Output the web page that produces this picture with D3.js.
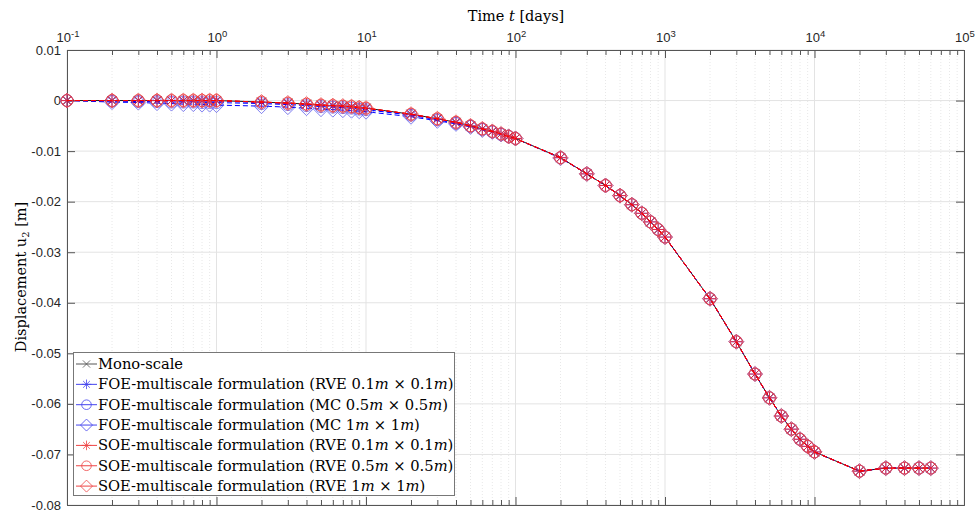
<!DOCTYPE html>
<html><head><meta charset="utf-8">
<script src="https://cdn.jsdelivr.net/npm/d3@7"></script>
<style>
html,body{margin:0;padding:0;background:#fff;}
svg{display:block;}
</style></head>
<body>
<svg id="chart" width="979" height="513"></svg>
<script>
const times = [0.1,0.2,0.3,0.4,0.5,0.6,0.7,0.8,0.9,1,
  2,3,4,5,6,7,8,9,10,
  20,30,40,50,60,70,80,90,100,
  200,300,400,500,600,700,800,900,1000,
  2000,3000,4000,5000,6000,7000,8000,9000,10000,
  20000,30000,40000,50000,60000];

const monoScale = [0,0,0,0,0,0,0,0,0,0,
  -0.0003,-0.0005,-0.0007,-0.0009,-0.0010,-0.0011,-0.0012,-0.0014,-0.0015,
  -0.0027,-0.0036,-0.0043,-0.0050,-0.0056,-0.0061,-0.0066,-0.0071,-0.0075,
  -0.0113,-0.0145,-0.0168,-0.0188,-0.0206,-0.0223,-0.0240,-0.0255,-0.0270,
  -0.0392,-0.0477,-0.0541,-0.0588,-0.0624,-0.0650,-0.0670,-0.0684,-0.0695,
  -0.0733,-0.0727,-0.0727,-0.0727,-0.0727];

const foeRve01 = [0,0,0,0,0,-0.0001,-0.0001,-0.0001,-0.0001,-0.0001,
  -0.0004,-0.0006,-0.0008,-0.0010,-0.0011,-0.0012,-0.0013,-0.0015,-0.0016,
  -0.0028,-0.0037,-0.0044,-0.0050,-0.0056,-0.0061,-0.0066,-0.0071,-0.0075,
  -0.0113,-0.0145,-0.0168,-0.0188,-0.0206,-0.0223,-0.0240,-0.0255,-0.0270,
  -0.0392,-0.0477,-0.0541,-0.0588,-0.0624,-0.0650,-0.0670,-0.0684,-0.0695,
  -0.0733,-0.0727,-0.0727,-0.0727,-0.0727];

const foeMc05 = [0,-0.0001,-0.0002,-0.0002,-0.0003,-0.0003,-0.0003,-0.0004,-0.0004,-0.0004,
  -0.0006,-0.0008,-0.0010,-0.0012,-0.0013,-0.0014,-0.0015,-0.0017,-0.0018,
  -0.0029,-0.0038,-0.0045,-0.0051,-0.0057,-0.0062,-0.0067,-0.0071,-0.0075,
  -0.0113,-0.0145,-0.0168,-0.0188,-0.0206,-0.0223,-0.0240,-0.0255,-0.0270,
  -0.0392,-0.0477,-0.0541,-0.0588,-0.0624,-0.0650,-0.0670,-0.0684,-0.0695,
  -0.0733,-0.0727,-0.0727,-0.0727,-0.0727];

const foeMc1 = [0,-0.0003,-0.0004,-0.0005,-0.0006,-0.0007,-0.0007,-0.0008,-0.0008,-0.0009,
  -0.0011,-0.0013,-0.0015,-0.0017,-0.0018,-0.0019,-0.0020,-0.0021,-0.0022,
  -0.0032,-0.0040,-0.0046,-0.0052,-0.0058,-0.0062,-0.0067,-0.0071,-0.0075,
  -0.0114,-0.0145,-0.0168,-0.0188,-0.0206,-0.0223,-0.0240,-0.0255,-0.0270,
  -0.0392,-0.0477,-0.0541,-0.0588,-0.0624,-0.0650,-0.0670,-0.0684,-0.0695,
  -0.0733,-0.0727,-0.0727,-0.0727,-0.0727];

const soeRve01 = [0,0,0,0,0,0,0,0,0,0,
  -0.0003,-0.0005,-0.0007,-0.0009,-0.0010,-0.0011,-0.0012,-0.0014,-0.0015,
  -0.0027,-0.0036,-0.0043,-0.0050,-0.0056,-0.0061,-0.0066,-0.0071,-0.0075,
  -0.0113,-0.0145,-0.0168,-0.0188,-0.0206,-0.0223,-0.0240,-0.0255,-0.0270,
  -0.0392,-0.0477,-0.0541,-0.0588,-0.0624,-0.0650,-0.0670,-0.0684,-0.0695,
  -0.0733,-0.0727,-0.0727,-0.0727,-0.0727];

const soeRve05 = [0,0,0,0,0,0,0,0,0,0,
  -0.0003,-0.0005,-0.0007,-0.0009,-0.0010,-0.0011,-0.0012,-0.0014,-0.0015,
  -0.0027,-0.0036,-0.0043,-0.0050,-0.0056,-0.0061,-0.0066,-0.0071,-0.0075,
  -0.0113,-0.0145,-0.0168,-0.0188,-0.0206,-0.0223,-0.0240,-0.0255,-0.0270,
  -0.0392,-0.0477,-0.0541,-0.0588,-0.0624,-0.0650,-0.0670,-0.0684,-0.0695,
  -0.0733,-0.0727,-0.0727,-0.0727,-0.0727];

const soeRve1 = [0,0,0,0,0,0,0,0,0,0,
  -0.0003,-0.0005,-0.0007,-0.0009,-0.0010,-0.0011,-0.0012,-0.0014,-0.0015,
  -0.0027,-0.0036,-0.0043,-0.0050,-0.0056,-0.0061,-0.0066,-0.0071,-0.0075,
  -0.0113,-0.0145,-0.0168,-0.0188,-0.0206,-0.0223,-0.0240,-0.0255,-0.0270,
  -0.0392,-0.0477,-0.0541,-0.0588,-0.0624,-0.0650,-0.0670,-0.0684,-0.0695,
  -0.0733,-0.0727,-0.0727,-0.0727,-0.0727];

const seriesLabels = [
  "Mono-scale",
  "FOE-multiscale formulation (RVE 0.1m × 0.1m)",
  "FOE-multiscale formulation (MC 0.5m × 0.5m)",
  "FOE-multiscale formulation (MC 1m × 1m)",
  "SOE-multiscale formulation (RVE 0.1m × 0.1m)",
  "SOE-multiscale formulation (RVE 0.5m × 0.5m)",
  "SOE-multiscale formulation (RVE 1m × 1m)"
];
const seriesValues = [monoScale, foeRve01, foeMc05, foeMc1, soeRve01, soeRve05, soeRve1];
const seriesColors = ["#000000","#0000ff","#0000ff","#0000ff","#ff0000","#ff0000","#ff0000"];
const markerColors = ["#333333","#3030ee","#6060ee","#6060ee","#ff2020","#ee4040","#ee4040"];
const seriesMarkers = ["x","star","circle","diamond","star","circle","diamond"];
const seriesDash = [null,"5,3","5,3","5,3","5,3","5,3","5,3"];
const legendLineColors = ["#555","#4444ee","#4444ee","#4444ee","#ee4444","#ee4444","#ee4444"];

const yTicks = [0.01,0,-0.01,-0.02,-0.03,-0.04,-0.05,-0.06,-0.07,-0.08];
const yTickLabels = ["0.01","0","-0.01","-0.02","-0.03","-0.04","-0.05","-0.06","-0.07","-0.08"];
const xMajor = [0.1,1,10,100,1000,10000,100000];
const xMajorExp = ["-1","0","1","2","3","4","5"];

const W = 979, H = 513;
const L = 67, R = 964, T = 50, B = 505;
const svg = d3.select("#chart");
const x = d3.scaleLog().domain([0.1, 1e5]).range([L, R]);
const y = d3.scaleLinear().domain([-0.08, 0.01]).range([B, T]);

const gridCol = "#e3e3e3";
// minor grid (dotted)
const allTicks = x.ticks();
const minor = allTicks.filter(t => !xMajor.some(m => Math.abs(m - t) / m < 1e-9));
svg.append("g").selectAll("line").data(minor).join("line")
  .attr("x1", d => x(d)).attr("x2", d => x(d)).attr("y1", T).attr("y2", B)
  .attr("stroke", "#e8e8e8").attr("stroke-width", 1).attr("stroke-dasharray", "1,2");
// major grid
svg.append("g").selectAll("line").data(xMajor).join("line")
  .attr("x1", d => x(d)).attr("x2", d => x(d)).attr("y1", T).attr("y2", B)
  .attr("stroke", gridCol).attr("stroke-width", 1);
svg.append("g").selectAll("line").data(yTicks).join("line")
  .attr("x1", L).attr("x2", R).attr("y1", d => y(d)).attr("y2", d => y(d))
  .attr("stroke", gridCol).attr("stroke-width", 1);

// axes (ticks inward)
const axCol = "#555";
function styleAxis(g){ g.select(".domain").attr("stroke", axCol); g.selectAll(".tick line").attr("stroke", axCol); }
svg.append("g").attr("transform", `translate(0,${T})`)
  .call(d3.axisTop(x).tickValues(xMajor).tickSize(-8).tickFormat(""))
  .call(styleAxis);
svg.append("g").attr("transform", `translate(0,${T})`)
  .call(d3.axisTop(x).tickValues(minor).tickSize(-5).tickFormat("")).call(g => g.select(".domain").remove())
  .call(styleAxis);
svg.append("g").attr("transform", `translate(0,${B})`)
  .call(d3.axisBottom(x).tickValues(xMajor).tickSize(-8).tickFormat(""))
  .call(styleAxis);
svg.append("g").attr("transform", `translate(0,${B})`)
  .call(d3.axisBottom(x).tickValues(minor).tickSize(-5).tickFormat("")).call(g => g.select(".domain").remove())
  .call(styleAxis);
svg.append("g").attr("transform", `translate(${L},0)`)
  .call(d3.axisLeft(y).tickValues(yTicks).tickSize(-8).tickFormat(""))
  .call(styleAxis);
svg.append("g").attr("transform", `translate(${R},0)`)
  .call(d3.axisRight(y).tickValues(yTicks).tickSize(-8).tickFormat(""))
  .call(styleAxis);

// tick labels
const lblFont = "'Liberation Sans', Arial, sans-serif";
xMajor.forEach((v, i) => {
  const t = svg.append("text").attr("x", x(v) + 1).attr("y", 42)
    .attr("text-anchor", "middle").attr("font-family", lblFont)
    .attr("font-size", 13).attr("fill", "#262626");
  t.append("tspan").text("10");
  t.append("tspan").attr("dy", -5.5).attr("font-size", 9.5).text(xMajorExp[i]);
});
svg.append("g").selectAll("text").data(yTicks).join("text")
  .attr("x", L - 6).attr("y", d => y(d) + 4.5)
  .attr("text-anchor", "end").attr("font-family", lblFont)
  .attr("font-size", 13).attr("fill", "#262626")
  .text((d, i) => yTickLabels[i]);

// axis titles
const serif = "'DejaVu Serif', 'Liberation Serif', serif";
const xt = svg.append("text").attr("x", 516).attr("y", 21).attr("text-anchor", "middle")
  .attr("font-family", serif).attr("font-size", 14.5).attr("fill", "#000");
xt.append("tspan").text("Time ");
xt.append("tspan").attr("font-style", "italic").text("t");
xt.append("tspan").text(" [days]");
const yt = svg.append("text").attr("transform", "translate(26,277) rotate(-90)")
  .attr("text-anchor", "middle").attr("font-family", serif).attr("font-size", 14.5).attr("fill", "#000");
yt.append("tspan").text("Displacement u");
yt.append("tspan").attr("dy", 3).attr("font-size", 10).text("2");
yt.append("tspan").attr("dy", -3).text(" [m]");

// markers
function markerPath(type, s) {
  if (type === "x") { const k = s * 0.75; return `M${-k},${-k}L${k},${k}M${-k},${k}L${k},${-k}`; }
  if (type === "star") { const k = s * 0.707; return `M${-s},0L${s},0M0,${-s}L0,${s}M${-k},${-k}L${k},${k}M${-k},${k}L${k},${-k}`; }
  if (type === "diamond") { const d = s * 1.25; return `M0,${-d}L${d},0L0,${d}L${-d},0Z`; }
  return null;
}
function drawMarker(g, type, cx, cy, color, s) {
  if (type === "circle") {
    g.append("circle").attr("cx", cx).attr("cy", cy).attr("r", s).attr("fill", "none")
      .attr("stroke", color).attr("stroke-width", 0.8);
  } else {
    g.append("path").attr("d", markerPath(type, s)).attr("transform", `translate(${cx},${cy})`)
      .attr("fill", "none").attr("stroke", color).attr("stroke-width", 0.8);
  }
}

const line = d3.line().x(d => x(d[0])).y(d => y(d[1]));
const plot = svg.append("g");
seriesValues.forEach((vals, i) => {
  const data = times.map((t, j) => [t, vals[j]]);
  const g = plot.append("g");
  g.append("path").attr("d", line(data)).attr("fill", "none")
    .attr("stroke", seriesColors[i]).attr("stroke-width", i === 0 ? 0.9 : 1)
    .attr("stroke-dasharray", seriesDash[i]);
  data.forEach(d => drawMarker(g, seriesMarkers[i], x(d[0]), y(d[1]), markerColors[i], 6));
});

// legend
const lg = svg.append("g");
lg.append("rect").attr("x", 73.5).attr("y", 352.5).attr("width", 381).attr("height", 143)
  .attr("fill", "#fff").attr("stroke", "#777").attr("stroke-width", 1);
seriesLabels.forEach((lab, i) => {
  const cy = 364 + i * 20.35;
  lg.append("line").attr("x1", 76).attr("x2", 97).attr("y1", cy).attr("y2", cy)
    .attr("stroke", legendLineColors[i]).attr("stroke-width", 1);
  drawMarker(lg, seriesMarkers[i], 86.5, cy, legendLineColors[i], 4.8);
  const t = lg.append("text").attr("x", 98).attr("y", cy + 5)
    .attr("font-family", serif).attr("font-size", 14.7).attr("fill", "#000");
  const parts = lab.split(/(\d)m/);
  for (let k = 0; k < parts.length; k++) {
    if (k % 2 === 0) { if (parts[k]) t.append("tspan").text(parts[k]); }
    else { t.append("tspan").text(parts[k]); t.append("tspan").attr("font-style", "italic").text("m"); }
  }
});
</script>
</body></html>
